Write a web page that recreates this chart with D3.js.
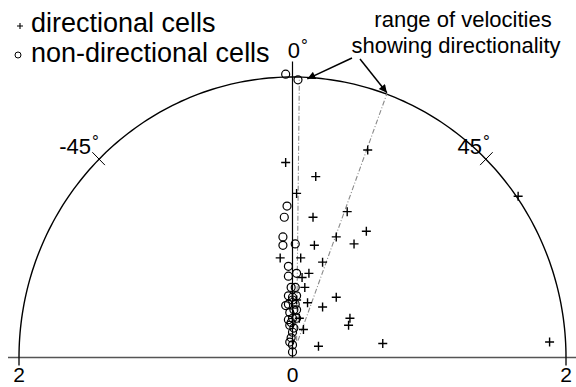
<!DOCTYPE html>
<html>
<head>
<meta charset="utf-8">
<script src="https://cdn.jsdelivr.net/npm/d3@7"></script>
<style>
  body { margin: 0; background: #fff; }
  text { font-family: "Liberation Sans", Arial, sans-serif; fill: #000; }
</style>
</head>
<body>
<svg id="chart" width="576" height="387"></svg>
<script>
// velocity components of directional cells (+)
const dirVx = [-0.05, 0.17, 0.55, 1.65, 0.03, 0.15, 0.40, 0.54, 0.32, 0.45, 0.16, -0.09, 0.06, 0.22,
               0.12, 0.07, 0.09, 0.11, 0.22, 0.32, 0.42, 0.41, 0.08, 0.19, 0.66, 1.88, 0.05, 0.03];
const dirVy = [1.39, 1.29, 1.48, 1.15, 1.17, 1.00, 1.04, 0.90, 0.86, 0.81, 0.80, 0.71, 0.71, 0.68,
               0.60, 0.57, 0.50, 0.39, 0.36, 0.43, 0.28, 0.23, 0.20, 0.08, 0.10, 0.11, 0.28, 0.41];

// velocity components of non-directional cells (o)
const nonVx = [-0.05, 0.04, -0.04, -0.06, -0.07, -0.07, 0.02, -0.03, -0.03, 0.03, -0.01, 0.02, 0.00, -0.03,
               0.03, -0.05, 0.02, 0.01, -0.02, 0.00, 0.03, -0.03, -0.02, 0.00, -0.01, 0.00, 0.00,
               0.00, -0.03, 0.03, -0.01, 0.01, -0.02];
const nonVy = [2.02, 1.98, 1.08, 1.00, 0.86, 0.80, 0.81, 0.65, 0.58, 0.60, 0.50, 0.50, 0.43, 0.44,
               0.44, 0.37, 0.38, 0.34, 0.32, 0.28, 0.28, 0.27, 0.23, 0.18, 0.14, 0.09, 0.04,
               0.41, 0.38, 0.34, 0.25, 0.21, 0.11];

// range of velocities showing directionality (start / end of each dashed line)
const rangeStart = [[0.03, 0.12], [0.04, 0.12]];
const rangeEnd = [[0.05, 1.98], [0.69, 1.88]];

const angleTicks = [-45, 0, 45];
const angleLabels = ["-45", "0", "45"];
const baseTicks = [-2, 0, 2];
const baseLabels = ["2", "0", "2"];
const maxR = 2;

const svg = d3.select("#chart");
const x = d3.scaleLinear().domain([-2, 2]).range([19, 566]);
const y = d3.scaleLinear().domain([0, 2]).range([357.5, 77]);

const polar = (deg, r) => {
    let a = deg * Math.PI / 180;
    return [x(r * Math.sin(a)), y(r * Math.cos(a))];
};

// baseline
svg.append("line")
    .attr("x1", 8).attr("x2", 576)
    .attr("y1", y(0)).attr("y2", y(0))
    .attr("stroke", "#555").attr("stroke-width", 1.5);

// ticks below baseline at +-2
baseTicks.filter(t => t !== 0).forEach(t =>
    svg.append("line")
        .attr("x1", x(t)).attr("x2", x(t))
        .attr("y1", y(0)).attr("y2", y(0) + 8)
        .attr("stroke", "#000").attr("stroke-width", 1.3)
);
baseTicks.forEach((t, i) =>
    svg.append("text")
        .attr("x", x(t)).attr("y", 382)
        .attr("text-anchor", "middle")
        .style("font-size", "21px")
        .text(baseLabels[i])
);

// outer semicircle
let arcLine = d3.line().x(d => polar(d, maxR)[0]).y(d => polar(d, maxR)[1]);
svg.append("path")
    .datum(d3.range(-90, 90.5, 1))
    .attr("d", arcLine)
    .attr("fill", "none")
    .attr("stroke", "#000")
    .attr("stroke-width", 1.4);

// vertical 0 line
svg.append("line")
    .attr("x1", x(0)).attr("x2", x(0))
    .attr("y1", y(0)).attr("y2", y(2.11))
    .attr("stroke", "#000").attr("stroke-width", 1.2);

// radial ticks at +-45
angleTicks.filter(t => t !== 0).forEach(t => {
    let p0 = polar(t, 1.94), p1 = polar(t, 2.07);
    svg.append("line")
        .attr("x1", p0[0]).attr("y1", p0[1])
        .attr("x2", p1[0]).attr("y2", p1[1])
        .attr("stroke", "#000").attr("stroke-width", 1);
});

// angle labels
const labelPos = { "-45": [91, 154], "0": [300, 58], "45": [482, 154] };
angleTicks.forEach((t, i) => {
    let pos = labelPos[String(t)];
    svg.append("text")
        .attr("x", pos[0]).attr("y", pos[1])
        .attr("text-anchor", "end")
        .style("font-size", "22px")
        .text(angleLabels[i]);
    svg.append("text")
        .attr("x", pos[0] + 1).attr("y", pos[1] - 7)
        .style("font-size", "17px")
        .text("\u00b0");
});

// dashed range lines
rangeStart.forEach((s, i) => {
    let e = rangeEnd[i];
    svg.append("line")
        .attr("x1", x(s[0])).attr("y1", y(s[1]))
        .attr("x2", x(e[0])).attr("y2", y(e[1]))
        .attr("stroke", "#8a8a8a")
        .attr("stroke-width", 1.1)
        .attr("stroke-dasharray", "5,2,1,2");
});

// non-directional cells
nonVx.forEach((vx, i) =>
    svg.append("circle")
        .attr("cx", x(vx)).attr("cy", y(nonVy[i]))
        .attr("r", 4)
        .attr("fill", "none")
        .attr("stroke", "#000")
        .attr("stroke-width", 1.2)
);

// directional cells
const plusPath = (cx, cy, s) => `M${cx - s},${cy}L${cx + s},${cy}M${cx},${cy - s}L${cx},${cy + s}`;
dirVx.forEach((vx, i) =>
    svg.append("path")
        .attr("d", plusPath(x(vx), y(dirVy[i]), 4.5))
        .attr("stroke", "#000")
        .attr("stroke-width", 1.4)
);

// annotation
svg.append("defs").append("marker")
    .attr("id", "arrow")
    .attr("viewBox", "0 0 10 10")
    .attr("refX", 10).attr("refY", 5)
    .attr("markerWidth", 11).attr("markerHeight", 8)
    .attr("markerUnits", "userSpaceOnUse")
    .attr("orient", "auto")
    .append("path")
    .attr("d", "M0,0L10,5L0,10Z")
    .attr("fill", "#000");

svg.append("text")
    .attr("x", 463).attr("y", 27)
    .attr("text-anchor", "middle")
    .style("font-size", "22px")
    .text("range of velocities");
svg.append("text")
    .attr("x", 456).attr("y", 53)
    .attr("text-anchor", "middle")
    .style("font-size", "22px")
    .text("showing directionality");

const arrowFrom = [[352, 58], [360, 59]];
rangeEnd.forEach((e, i) =>
    svg.append("line")
        .attr("x1", arrowFrom[i][0]).attr("y1", arrowFrom[i][1])
        .attr("x2", x(e[0]) + (i === 0 ? 8 : 0)).attr("y2", y(e[1]) - 1)
        .attr("stroke", "#000").attr("stroke-width", 1.5)
        .attr("marker-end", "url(#arrow)")
);

// legend
svg.append("path")
    .attr("d", plusPath(20, 26, 3))
    .attr("stroke", "#000").attr("stroke-width", 1.1);
svg.append("text")
    .attr("x", 31).attr("y", 32)
    .style("font-size", "27px")
    .text("directional cells");
svg.append("circle")
    .attr("cx", 18).attr("cy", 55).attr("r", 3)
    .attr("fill", "none").attr("stroke", "#000").attr("stroke-width", 1);
svg.append("text")
    .attr("x", 31).attr("y", 62)
    .style("font-size", "27px")
    .text("non-directional cells");
</script>
</body>
</html>
